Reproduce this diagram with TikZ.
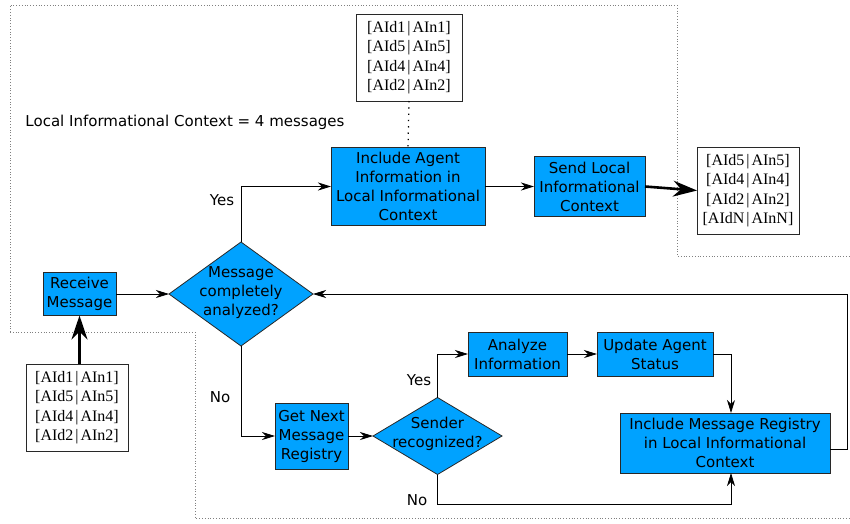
\documentclass[tikz,border=0pt]{standalone}
\usepackage{fontspec}
\setmainfont{Liberation Serif}
\newfontfamily\flowfont{DejaVu Sans}
\usetikzlibrary{shapes.geometric,arrows.meta,calc}
\definecolor{flowblue}{RGB}{0,162,255}
\definecolor{edgegray}{RGB}{40,40,40}
\newcommand{\pair}[2]{{[}AId#1\kern2pt|\kern2pt AIn#2{]}}
\begin{document}
\begin{tikzpicture}[x=1pt,y=-1pt,
  every node/.style={inner sep=0pt,outer sep=0pt},
  proc/.style={draw=edgegray,line width=0.8pt,fill=flowblue,align=center,
    font=\flowfont\fontsize{15}{19}\selectfont},
  decis/.style={diamond,draw=edgegray,line width=0.8pt,fill=flowblue,inner sep=0pt},
  dtext/.style={align=center,font=\flowfont\fontsize{15}{19}\selectfont},
  lst/.style={draw=edgegray,line width=0.8pt,fill=white,align=center,
    font=\fontsize{16}{19.5}\selectfont},
  lbl/.style={font=\flowfont\fontsize{15}{19}\selectfont},
  flow/.style={draw=black,line width=0.8pt,-{Stealth[length=13pt,width=8pt,inset=4pt]}},
  bigflow/.style={draw=black,line width=2.6pt,-{Stealth[length=24pt,width=16pt,inset=8pt]}},
  bound/.style={draw=gray,dotted,line width=0.8pt}
]
\useasboundingbox (0,0) rectangle (850,523);
% dotted boundary
\draw[bound] (10,332) -- (10,5) -- (677,5) -- (677,256) -- (850,256);
\draw[bound] (10,332) -- (195,332) -- (195,518) -- (850,518);

% nodes
\node[lst,minimum width=106,minimum height=87] (topl) at (409,57.5)
  {\pair11\\\pair55\\\pair44\\\pair22};
\node[lbl] (ctx) at (185,122) {Local Informational Context = 4 messages};
\node[proc,minimum width=154,minimum height=78] (incA) at (408,186.5)
  {Include Agent\\Information in\\Local Informational\\Context};
\node[proc,minimum width=111,minimum height=60] (send) at (589.5,186.5)
  {Send Local\\Informational\\Context};
\node[lst,minimum width=102,minimum height=87] (outl) at (748,190.5)
  {\pair55\\\pair44\\\pair22\\\pair NN};
\node[proc,minimum width=73,minimum height=43] (recv) at (79.5,294)
  {Receive\\Message};
\node[decis,minimum width=144,minimum height=104] (d1) at (241,294) {};
\node[dtext] (d1t) at (241,293) {Message\\completely\\analyzed?};
\node[lst,minimum width=102,minimum height=87] (inl) at (77,407.5)
  {\pair11\\\pair55\\\pair44\\\pair22};
\node[proc,minimum width=73,minimum height=66] (getn) at (311.5,436)
  {Get Next\\Message\\Registry};
\node[decis,minimum width=129,minimum height=77] (d2) at (437.5,436) {};
\node[dtext] (d2t) at (437.5,433.5) {Sender\\recognized?};
\node[proc,minimum width=99,minimum height=44] (anl) at (517.5,354)
  {Analyze\\Information};
\node[proc,minimum width=116,minimum height=44] (upd) at (655,354)
  {Update Agent\\Status};
\node[proc,minimum width=210,minimum height=60] (incM) at (725,443)
  {Include Message Registry\\in Local Informational\\Context};

% labels
\node[lbl] (yes1) at (222,200) {Yes};
\node[lbl] (no1) at (220,397) {No};
\node[lbl] (yes2) at (419,380) {Yes};
\node[lbl] (no2) at (417,500) {No};

% connectors
\draw[black,line width=1.3pt,dash pattern=on 1.3pt off 5pt] (topl.south) -- (incA.north);
\draw[flow] (recv.east) -- (d1.west);
\draw[flow] (d1.north) |- (incA.west);
\draw[flow] (d1.south) |- (getn.west);
\draw[flow] (incA.east) -- (send.west);
\draw[bigflow] (send.east) -- (outl.west);
\draw[bigflow] (recv.south |- inl.north) -- (recv.south);
\draw[flow] (getn.east) -- (d2.west);
\draw[flow] (d2.north) |- (anl.west);
\draw[flow] (anl.east) -- (upd.west);
\draw[flow] (upd.east) -| ([xshift=6pt]incM.north);
\coordinate (nobot) at ($(d2.south)+(0,30)$);
\draw[flow] (d2.south) -- (nobot) -| ([xshift=6pt]incM.south);
\coordinate (loopr) at ($(incM.east)+(17,6)$);
\draw[flow] ([yshift=-6pt]incM.east) -- (loopr) |- (d1.east);
\end{tikzpicture}
\end{document}
